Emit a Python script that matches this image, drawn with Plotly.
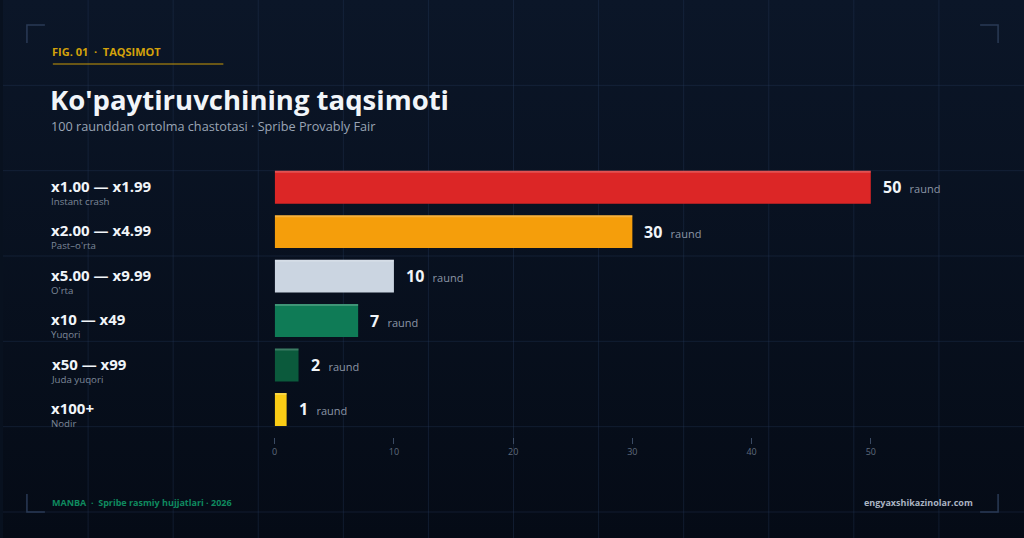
import plotly.graph_objects as go

W, H = 1024, 538

ranges = ["x1.00 — x1.99", "x2.00 — x4.99", "x5.00 — x9.99", "x10 — x49", "x50 — x99", "x100+"]
tiers = ["Instant crash", "Past–o'rta", "O'rta", "Yuqori", "Juda yuqori", "Nodir"]
rounds = [50, 30, 10, 7, 2, 1]
colors = ["#dc2626", "#f59e0b", "#cbd5e1", "#0f7b56", "#0b5a3c", "#facc15"]
x_ticks = [0, 10, 20, 30, 40, 50]

FONT = "Open Sans"

# background gradient as an svg data uri
bg_svg = ("data:image/svg+xml;utf8,<svg xmlns='http://www.w3.org/2000/svg' width='1024' height='538'>"
          "<defs><linearGradient id='g' x1='0' y1='0' x2='0' y2='1'>"
          "<stop offset='0' stop-color='%230b1628'/><stop offset='1' stop-color='%23050b16'/>"
          "</linearGradient></defs><rect width='1024' height='538' fill='url(%23g)'/></svg>")

fig = go.Figure()
fig.add_trace(go.Bar(x=rounds, y=list(range(len(rounds))), orientation="h",
                     marker=dict(color=colors, line=dict(width=0)), width=0.74,
                     hoverinfo="skip"))
# thin light strip on top of each bar
fig.add_trace(go.Bar(x=rounds, y=list(range(len(rounds))), orientation="h",
                     marker=dict(color="rgba(255,255,255,0.2)", line=dict(width=0)),
                     width=0.045, offset=-0.37, hoverinfo="skip"))

def px_x(p):
    return p / W

def px_y(p):
    return 1 - p / H

shapes = []
grid_col = "rgba(40,60,95,0.35)"
for k in range(1, 12):
    shapes.append(dict(type="line", xref="paper", yref="paper", x0=px_x(k * W / 12), x1=px_x(k * W / 12),
                       y0=0, y1=1, line=dict(color=grid_col, width=1), layer="below"))
for k in range(1, 7):
    shapes.append(dict(type="line", xref="paper", yref="paper", x0=0, x1=1,
                       y0=px_y(k * W / 12), y1=px_y(k * W / 12), line=dict(color=grid_col, width=1), layer="below"))

# corner brackets
br = "#2a3a55"
for cx, cy, dx, dy in [(24, 25, 1, 1), (998, 25, -1, 1), (24, 512, 1, -1), (998, 512, -1, -1)]:
    shapes.append(dict(type="path", xref="paper", yref="paper",
                       path="M %f %f L %f %f L %f %f" % (px_x(cx + 18 * dx), px_y(cy), px_x(cx), px_y(cy),
                                                         px_x(cx), px_y(cy + 18 * dy)),
                       line=dict(color=br, width=1.5)))

# gold rule under the fig label
shapes.append(dict(type="line", xref="paper", yref="paper", x0=px_x(50), x1=px_x(221),
                   y0=px_y(64), y1=px_y(64), line=dict(color="#c99a06", width=1)))

LX = 47  # left edge of text block, minus annotation padding

ann = []
ann.append(dict(text="<b>FIG. 01  ·  TAQSIMOT</b>", x=px_x(LX), y=px_y(51), xref="paper", yref="paper",
                xanchor="left", yanchor="middle", showarrow=False,
                font=dict(family=FONT, size=11, color="#d4a20a")))
ann.append(dict(text="<b>Ko'paytiruvchining taqsimoti</b>", x=px_x(LX - 2), y=px_y(100), xref="paper", yref="paper",
                xanchor="left", yanchor="middle", showarrow=False,
                font=dict(family=FONT, size=27.5, color="#f1f5f9")))
ann.append(dict(text="100 raunddan ortolma chastotasi · Spribe Provably Fair", x=px_x(LX - 1), y=px_y(126),
                xref="paper", yref="paper", xanchor="left", yanchor="middle", showarrow=False,
                font=dict(family=FONT, size=12.7, color="#9aa5b5")))

for i, (r, t, v) in enumerate(zip(ranges, tiers, rounds)):
    # range label with tier name underneath, one annotation so the lines stay close
    ann.append(dict(text="<span style='font-size:15px;color:#f1f5f9'><b>%s</b></span><br>%s" % (r, t),
                    x=px_x(LX - 1), y=i, xref="paper", yref="y", align="left",
                    xanchor="left", yanchor="middle", yshift=-4.5, showarrow=False,
                    font=dict(family=FONT, size=9.7, color="#7d8899")))
    ann.append(dict(text="<b>%d</b>  <span style='font-size:11px;color:#8b95a5'>raund</span>" % v,
                    x=v, y=i, xref="x", yref="y", xanchor="left", yanchor="middle", xshift=10,
                    showarrow=False, font=dict(family=FONT, size=16, color="#f1f5f9")))

ann.append(dict(text="<b>MANBA  ·  Spribe rasmiy hujjatlari · 2026</b>", x=px_x(LX), y=px_y(502),
                xref="paper", yref="paper", xanchor="left", yanchor="middle", showarrow=False,
                font=dict(family=FONT, size=9, color="#0f8a5f")))
ann.append(dict(text="<b>engyaxshikazinolar.com</b>", x=px_x(975), y=px_y(502),
                xref="paper", yref="paper", xanchor="right", yanchor="middle", showarrow=False,
                font=dict(family=FONT, size=9, color="#aab4c3")))

fig.update_layout(
    width=W, height=H,
    margin=dict(l=0, r=0, t=0, b=0),
    paper_bgcolor="#08111f",
    plot_bgcolor="rgba(0,0,0,0)",
    barmode="overlay",
    showlegend=False,
    images=[dict(source=bg_svg, xref="paper", yref="paper", x=0, y=1, sizex=1, sizey=1,
                 sizing="stretch", xanchor="left", yanchor="top", layer="below")],
    shapes=shapes,
    annotations=ann,
    xaxis=dict(domain=[px_x(272.5), px_x(966)], range=[0, 58], tickvals=x_ticks,
               showgrid=False, zeroline=False, showline=False,
               ticks="outside", ticklen=6, tickcolor="#3a4a63", tickwidth=1,
               tickfont=dict(family=FONT, size=9, color="#5f6b7d")),
    yaxis=dict(domain=[px_y(437), px_y(165)], range=[5.62, -0.5], showticklabels=False,
               showgrid=False, zeroline=False, showline=False, ticks=""),
)

fig.write_html("out.html", config={"displayModeBar": False},
               post_script="document.body.style.margin='0';")
